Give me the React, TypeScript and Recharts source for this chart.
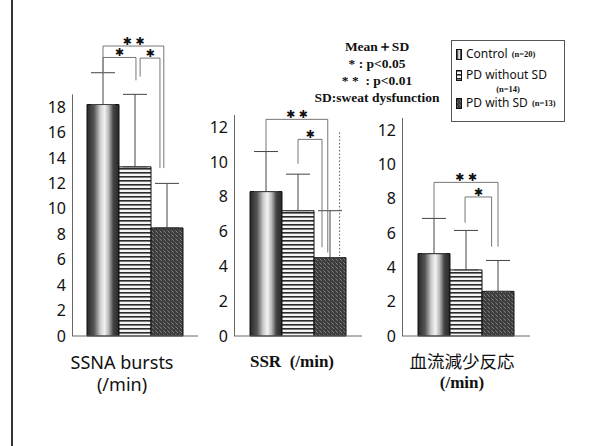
import { BarChart, Bar, XAxis, YAxis, ErrorBar } from 'recharts';

// groups compared in every panel
const groups = ['Control', 'PD without SD', 'PD with SD'];
const groupN = ['(n=20)', '(n=14)', '(n=13)'];
const groupFill = ['url(#ctrlGrad)', 'url(#stripes)', 'url(#speckle)'];

// mean and SD
const ssnaMean = [18.2, 13.3, 8.5];
const ssnaSd = [2.5, 5.7, 3.5];
const ssrMean = [8.3, 7.2, 4.5];
const ssrSd = [2.3, 2.1, 2.7];
const bloodMean = [4.8, 3.85, 2.6];
const bloodSd = [2.05, 2.3, 1.8];

const ssnaTicks = [0, 2, 4, 6, 8, 10, 12, 14, 16, 18];
const smallTicks = [0, 2, 4, 6, 8, 10, 12];

// significance brackets: bar index from/to, height, and where each leg ends
const ssnaBrackets = [
  { from: 0, to: 1.9, y: 22.8, yFrom: 20.7, yTo: 13.2, label: '✱ ✱' },
  { from: 0, to: 1.03, y: 21.9, yFrom: 20.7, yTo: 20.1, label: '✱' },
  { from: 1.16, to: 1.78, y: 21.85, yFrom: 20.4, yTo: 13.2, label: '✱' },
];
const ssrBrackets = [
  { from: 0, to: 1.93, y: 12.45, yFrom: 10.6, yTo: 4.8, label: '✱ ✱' },
  { from: 1.0, to: 1.75, y: 11.3, yFrom: 9.9, yTo: 5.1, label: '✱' },
];
const bloodBrackets = [
  { from: 0, to: 2.0, y: 8.95, yFrom: 6.85, yTo: 5.2, label: '✱ ✱' },
  { from: 0.97, to: 1.8, y: 8.1, yFrom: 6.6, yTo: 5.2, label: '✱' },
];

const W = 589;
const H = 446;
const BAR = 32;

interface Bracket { from: number; to: number; y: number; yFrom: number; yTo: number; label: string; }
interface PanelProps {
  mean: number[];
  sd: number[];
  ticks: number[];
  max: number; // domain top
  axisMax: number; // where the drawn axis line stops
  left: number;
  right: number;
  top: number;
  bottom: number;
  brackets: Bracket[];
  dotted?: { at: number; y1: number; y2: number };
}

function Panel({ mean, sd, ticks, max, left, right, top, bottom }: PanelProps) {
  const row: Record<string, any> = { name: 'g' };
  mean.forEach((m, i) => {
    row['v' + i] = m;
    row['e' + i] = [0, sd[i]];
  });
  return (
    <div style={{ position: 'absolute', left: 0, top: 0 }}>
      <BarChart
        width={W}
        height={H}
        data={[row]}
        barSize={BAR}
        barGap={0}
        margin={{ top, right: W - right, bottom: H - bottom - 1, left: 0 }}
      >
        <XAxis dataKey="name" tick={false} tickLine={false} height={1} axisLine={{ stroke: '#666' }} />
        <YAxis
          width={left}
          domain={[0, max]}
          ticks={ticks}
          interval={0}
          tickLine={false}
          tickSize={0}
          tickMargin={6}
          axisLine={false}
          tick={{ fill: '#111', fontSize: 16, fontFamily: 'Noto Sans' }}
        />
        {mean.map((_, i) => (
          <Bar key={i} dataKey={'v' + i} fill={groupFill[i]} stroke="#111" strokeWidth={1} isAnimationActive={false}>
            <ErrorBar dataKey={'e' + i} width={12} stroke="#444" strokeWidth={1} direction="y" isAnimationActive={false} />
          </Bar>
        ))}
      </BarChart>
    </div>
  );
}

// value axis line (stops below the brackets) plus the significance marks
function Overlay({ left, right, top, bottom, max, axisMax, brackets, dotted }: PanelProps) {
  const x0 = left + (right - left - BAR * 3) / 2 + BAR / 2;
  const px = (i: number) => x0 + i * BAR;
  const py = (v: number) => bottom - (v / max) * (bottom - top);
  return (
    <g>
      <line x1={left + 0.5} x2={left + 0.5} y1={py(0)} y2={py(axisMax)} stroke="#666" strokeWidth={1} />
      {brackets.map((b, k) => (
        <g key={k}>
          <polyline
            points={`${px(b.from)},${py(b.yFrom)} ${px(b.from)},${py(b.y)} ${px(b.to)},${py(b.y)} ${px(b.to)},${py(b.yTo)}`}
            fill="none"
            stroke="#666"
            strokeWidth={0.9}
          />
          <text
            x={(px(b.from) + px(b.to)) / 2}
            y={py(b.y) - 1}
            textAnchor="middle"
            fontSize={11}
            fontFamily="DejaVu Sans"
            fill="#111"
            style={{ whiteSpace: 'pre' }}
          >
            {b.label}
          </text>
        </g>
      ))}
      {dotted && (
        <line x1={px(dotted.at)} x2={px(dotted.at)} y1={py(dotted.y1)} y2={py(dotted.y2)} stroke="#555" strokeDasharray="1.5 2" />
      )}
    </g>
  );
}

const panels: PanelProps[] = [
  { mean: ssnaMean, sd: ssnaSd, ticks: ssnaTicks, max: 22, axisMax: 19, left: 72, right: 198, top: 56.2, bottom: 336, brackets: ssnaBrackets },
  { mean: ssrMean, sd: ssrSd, ticks: smallTicks, max: 12.7, axisMax: 12.7, left: 234, right: 362, top: 115, bottom: 336, brackets: ssrBrackets, dotted: { at: 2.3, y1: 11.7, y2: 4.6 } },
  { mean: bloodMean, sd: bloodSd, ticks: smallTicks, max: 12.7, axisMax: 12.7, left: 402, right: 530, top: 118, bottom: 336, brackets: bloodBrackets },
];

const serif = 'Liberation Serif, serif';

export default function App() {
  return (
    <div style={{ position: 'absolute', left: 0, top: 0, width: W, height: H, background: '#fff', overflow: 'hidden' }}>
      <svg width={0} height={0} style={{ position: 'absolute' }}>
        <defs>
          <linearGradient id="ctrlGrad" x1="0" y1="0" x2="1" y2="0">
            <stop offset="0" stopColor="#2a2a2a" />
            <stop offset="0.22" stopColor="#555" />
            <stop offset="0.42" stopColor="#cfcfcf" />
            <stop offset="0.55" stopColor="#f2f2f2" />
            <stop offset="0.68" stopColor="#b5b5b5" />
            <stop offset="0.82" stopColor="#444" />
            <stop offset="1" stopColor="#262626" />
          </linearGradient>
          <pattern id="stripes" width={4} height={4} patternUnits="userSpaceOnUse">
            <rect width={4} height={4} fill="#f4f4f4" />
            <rect width={4} height={1.6} fill="#2a2a2a" />
          </pattern>
          <pattern id="speckle" width={4} height={4} patternUnits="userSpaceOnUse">
            <rect width={4} height={4} fill="#3e3e3e" />
            <rect x={1} y={0} width={1} height={1} fill="#7a7a7a" />
            <rect x={3} y={2} width={1} height={1} fill="#6a6a6a" />
            <rect x={0} y={3} width={1} height={1} fill="#808080" />
          </pattern>
        </defs>
      </svg>

      <div style={{ position: 'absolute', left: 11, top: 0, width: 1.5, height: H, background: '#333' }} />

      {panels.map((p, i) => (
        <Panel key={i} {...p} />
      ))}

      <svg width={W} height={H} style={{ position: 'absolute', left: 0, top: 0, pointerEvents: 'none' }}>
        {panels.map((p, i) => (
          <Overlay key={i} {...p} />
        ))}
      </svg>

      {/* statistics note */}
      <div
        style={{
          position: 'absolute', left: 312, top: 38, width: 130, textAlign: 'center',
          fontFamily: serif, fontWeight: 'bold', fontSize: 13.5, lineHeight: '17px', color: '#111',
        }}
      >
        <div>Mean＋SD</div>
        <div>* : p&lt;0.05</div>
        <div style={{ whiteSpace: 'pre' }}>* *  : p&lt;0.01</div>
        <div style={{ whiteSpace: 'nowrap' }}>SD:sweat dysfunction</div>
      </div>

      {/* legend */}
      <div
        style={{
          position: 'absolute', left: 451, top: 40, width: 114, height: 82, border: '1px solid #555',
          fontFamily: 'Noto Sans', fontSize: 12, color: '#111', boxSizing: 'border-box',
        }}
      >
        {groups.map((g, i) => (
          <div
            key={g}
            style={{
              position: 'absolute', left: 4, top: [5, 26, 54][i], whiteSpace: 'nowrap', lineHeight: '16px',
              display: 'flex', alignItems: 'center', gap: 4,
            }}
          >
            <svg width={6} height={11}>
              <rect x={0.5} y={0.5} width={5} height={10} fill={groupFill[i]} stroke="#111" strokeWidth={1} />
            </svg>
            <span>{g}</span>
            {i !== 1 && <span style={{ fontFamily: serif, fontSize: 8.5, fontWeight: 'bold' }}>{groupN[i]}</span>}
          </div>
        ))}
        <div style={{ position: 'absolute', left: 0, width: '100%', top: 43, lineHeight: '10px', textAlign: 'center', fontFamily: serif, fontSize: 8.5, fontWeight: 'bold' }}>
          {groupN[1]}
        </div>
      </div>

      {/* panel titles */}
      <div style={{ position: 'absolute', left: 42, width: 160, top: 351, textAlign: 'center', fontFamily: 'Noto Sans', fontSize: 18, lineHeight: '22px', color: '#111' }}>
        <div>SSNA bursts</div>
        <div>(/min)</div>
      </div>
      <div style={{ position: 'absolute', left: 212, width: 160, top: 351, textAlign: 'center', fontFamily: serif, fontWeight: 'bold', fontSize: 17, lineHeight: '22px', color: '#111', whiteSpace: 'pre' }}>
        {'SSR  (/min)'}
      </div>
      <div style={{ position: 'absolute', left: 382, width: 160, top: 350, textAlign: 'center', fontSize: 17.5, lineHeight: '22px', color: '#111' }}>
        <div style={{ fontFamily: 'Noto Sans CJK JP' }}>血流減少反応</div>
        <div style={{ fontFamily: serif, fontWeight: 'bold', fontSize: 17 }}>(/min)</div>
      </div>
    </div>
  );
}
